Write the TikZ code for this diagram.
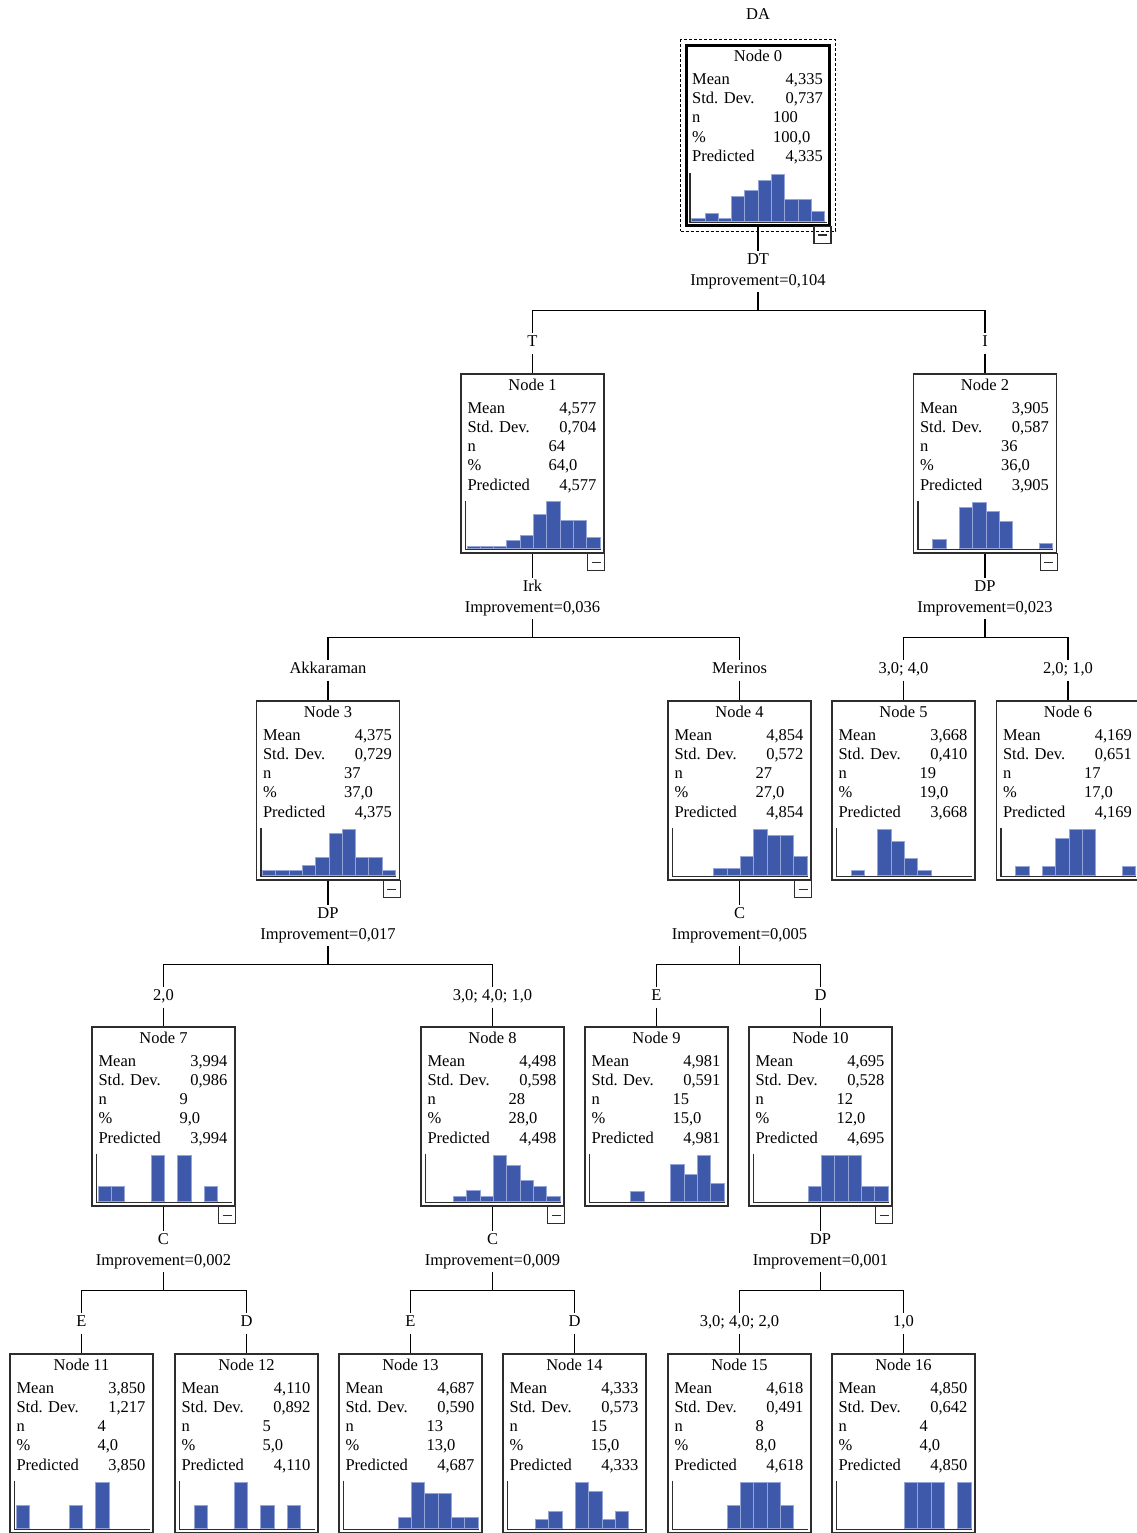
\documentclass[tikz,border=0pt]{standalone}
\usepackage{fontspec}
\setmainfont{Liberation Serif}
\usepackage{tikz}
\usetikzlibrary{positioning,calc,fit}
\definecolor{histblue}{RGB}{62,88,170}
\definecolor{histedge}{RGB}{150,165,215}
\definecolor{boxline}{RGB}{45,45,45}
\newcommand{\treefont}{\fontsize{16.5}{19.8}\selectfont}

% one tree node: box, statistics and histogram
\newcommand{\treebox}[8][]{%
  \node[box,#1] (#2) at (#3) {};
  \node[txt, anchor=base] at ($(#2.north)+(0,17)$) {Node #4};
  \node[txt, anchor=base west] at ($(#2.north west)+(7,40)$) {Mean};
  \node[txt, anchor=base east] at ($(#2.north east)+(-8,40)$) {#5};
  \node[txt, anchor=base west] at ($(#2.north west)+(7,59.2)$) {Std. Dev.};
  \node[txt, anchor=base east] at ($(#2.north east)+(-8,59.2)$) {#6};
  \node[txt, anchor=base west] at ($(#2.north west)+(7,78.4)$) {n};
  \node[txt, anchor=base west] at ($(#2.north west)+(88,78.4)$) {#7};
  \node[txt, anchor=base west] at ($(#2.north west)+(7,97.6)$) {\%};
  \node[txt, anchor=base west] at ($(#2.north west)+(88,97.6)$) {#7,0};
  \node[txt, anchor=base west] at ($(#2.north west)+(7,116.8)$) {Predicted};
  \node[txt, anchor=base east] at ($(#2.north east)+(-8,116.8)$) {#5};
  \draw[axisline] ($(#2.south west)+(5,-53)$) |- ($(#2.south east)+(-4,-4)$);
  \foreach \h [count=\i from 0] in {#8} {%
    \ifdim\h pt>0pt
      \draw[bar] ($(#2.south west)+(6.5+13.3*\i,-5)$) rectangle ++(13.3,-\h);
    \fi}%
}

% collapse marker under a split node
\newcommand{\minusbox}[1]{%
  \draw[mbox] (#1.south east) rectangle ++(-17,17);
  \draw[mbox] ($(#1.south east)+(-13,8.5)$) -- ++(9,0);
}

% split label, improvement and branches to the two children
\newcommand{\treesplit}[7]{%
  \node[lab, below=24pt of #1] (sv#1) {#2};
  \node[lab, below=0pt of sv#1] (im#1) {Improvement=#3};
  \coordinate[below=18pt of im#1] (j#1);
  \node[lab, anchor=base] (b#4) at ($(j#1 -| #4)+(0,36.5)$) {#5};
  \node[lab, anchor=base] (b#6) at ($(j#1 -| #6)+(0,36.5)$) {#7};
  \draw[link] (#1) -- (sv#1);
  \draw[link] (im#1) -- (j#1);
  \draw[link] (j#1) -| (b#4);
  \draw[link] (j#1) -| (b#6);
  \draw[link] (b#4) -- (#4);
  \draw[link] (b#6) -- (#6);
}

\begin{document}
\begin{tikzpicture}[x=1pt, y=-1pt,
    box/.style={rectangle, draw=boxline, line width=1.3pt,
        minimum width=143pt, minimum height=179pt, inner sep=0pt},
    txt/.style={font=\treefont, inner sep=0pt},
    lab/.style={font=\treefont, text height=11pt, text depth=3.5pt, inner sep=3pt},
    link/.style={line width=1.2pt, black},
    axisline/.style={line width=1.3pt, draw=boxline},
    bar/.style={fill=histblue, draw=histedge, line width=0.6pt},
    mbox/.style={line width=1.2pt, draw=boxline},
    selbox/.style={draw=black, line width=1pt, dash pattern=on 3pt off 2pt, inner sep=4.5pt}
]
    \useasboundingbox (0,0) rectangle (1137,1533);
    \clip (0,0) rectangle (1137,1533);

    % Dependent variable
    \node[lab, anchor=base] (dep) at (758,20) {DA};

    % Root
    \treebox[line width=3pt, draw=black]{n0}{758,135.5}{0}{4,335}{0,737}{100}{3.3,8,3.3,24.7,31.3,41.3,47.3,21.7,21.7,10.7}
    \node[selbox, fit=(n0)] (sel) {};

    % Level 1
    \treebox{n1}{532.5,463.5}{1}{4,577}{0,704}{64}{2.7,2.7,2.7,8.2,13.6,34,47,28,28,11}
    \treebox{n2}{985,463.5}{2}{3,905}{0,587}{36}{0,9.3,0,41.7,46,37.3,27.3,0,0,5.7}

    % Level 2
    \treebox{n3}{328,790.5}{3}{4,375}{0,729}{37}{5.7,5.7,5.7,10,18.3,42.3,46.3,18.3,18.3,5.7}
    \treebox{n4}{739.5,790.5}{4}{4,854}{0,572}{27}{0,0,0,7.3,7.3,19.7,46.7,40.7,40.7,19.7}
    \treebox{n5}{903.5,790.5}{5}{3,668}{0,410}{19}{0,5,0,46,34.3,17.7,5,0,0,0}
    \treebox{n6}{1068,790.5}{6}{4,169}{0,651}{17}{0,9.3,0,9.3,37.7,46,46,0,0,9.3}

    % Level 3
    \treebox{n7}{163.5,1116.5}{7}{3,994}{0,986}{9}{15.3,15.3,0,0,46.7,0,46.7,0,15.3,0}
    \treebox{n8}{492.5,1116.5}{8}{4,498}{0,598}{28}{0,0,5.3,11.7,5.3,46.7,36.7,21.7,15.3,5.3}
    \treebox{n9}{656.5,1116.5}{9}{4,981}{0,591}{15}{0,0,0,10,0,0,37.7,27.7,46.7,18.3}
    \treebox{n10}{820.5,1116.5}{10}{4,695}{0,528}{12}{0,0,0,0,15.3,46.7,46.7,46.7,15.3,15.3}

    % Level 4
    \treebox{n11}{81.5,1443.5}{11}{3,850}{1,217}{4}{23.7,0,0,0,23.7,0,46,0,0,0}
    \treebox{n12}{246.5,1443.5}{12}{4,110}{0,892}{5}{0,23.7,0,0,46,0,23.7,0,23.7,0}
    \treebox{n13}{410.5,1443.5}{13}{4,687}{0,590}{13}{0,0,0,0,11,46,35,35,11,11}
    \treebox{n14}{574.5,1443.5}{14}{4,333}{0,573}{15}{0,0,9.3,17.7,0,46,37.7,9.3,17.7,0}
    \treebox{n15}{739.5,1443.5}{15}{4,618}{0,491}{8}{0,0,0,0,23.7,46,46,46,23.7,0}
    \treebox{n16}{903.5,1443.5}{16}{4,850}{0,642}{4}{0,0,0,0,0,46,46,46,0,46}

    % Splits
    \treesplit{n0}{DT}{0,104}{n1}{T}{n2}{I}
    \treesplit{n1}{Irk}{0,036}{n3}{Akkaraman}{n4}{Merinos}
    \treesplit{n2}{DP}{0,023}{n5}{3,0; 4,0}{n6}{2,0; 1,0}
    \treesplit{n3}{DP}{0,017}{n7}{2,0}{n8}{3,0; 4,0; 1,0}
    \treesplit{n4}{C}{0,005}{n9}{E}{n10}{D}
    \treesplit{n7}{C}{0,002}{n11}{E}{n12}{D}
    \treesplit{n8}{C}{0,009}{n13}{E}{n14}{D}
    \treesplit{n10}{DP}{0,001}{n15}{3,0; 4,0; 2,0}{n16}{1,0}

    % Collapse markers
    \foreach \m in {n0,n1,n2,n3,n4,n7,n8,n10} {\minusbox{\m}}
\end{tikzpicture}
\end{document}
